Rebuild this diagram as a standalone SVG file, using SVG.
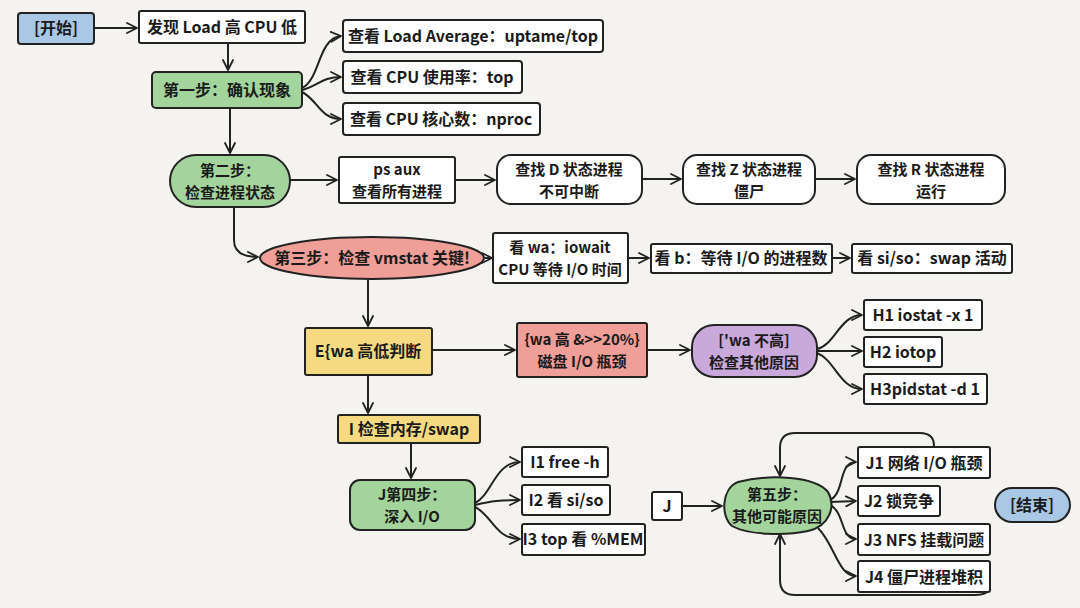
<svg xmlns="http://www.w3.org/2000/svg" width="1080" height="608" viewBox="0 0 1080 608">
<defs>
<marker id="ah" viewBox="0 0 12 12" refX="11" refY="6" markerWidth="12" markerHeight="12" markerUnits="userSpaceOnUse" orient="auto">
<path d="M1,1 L11,6 L1,11" fill="none" stroke="#222" stroke-width="1.8" stroke-linecap="round" stroke-linejoin="round"/>
</marker>
<style>
.b{stroke:#222;stroke-width:2;}
.w{fill:#fff;}
.g{fill:#a3d49b;}
.r{fill:#f09e98;}
.y{fill:#f6da82;}
.p{fill:#c9a8dc;}
.bl{fill:#a9c8e6;}
text{font-family:"Noto Sans CJK SC","Liberation Sans",sans-serif;font-weight:700;font-size:16px;fill:#1a1a1a;text-anchor:middle;}
text.t{font-size:15px;}
.c path{fill:none;stroke:#222;stroke-width:2;marker-end:url(#ah);}
</style>
</defs>
<rect width="1080" height="608" fill="#f4f3ef"/>
<g class="c">
<path d="M94,28 L137,28"/>
<path d="M228,43 L228,70"/>
<path d="M302,88 C320,80 318,38 341,36"/>
<path d="M302,90 C318,86 322,77 341,77"/>
<path d="M302,92 C318,100 320,119 341,119"/>
<path d="M230,108 L230,153"/>
<path d="M290,180 L337,180"/>
<path d="M455,180 L495,180"/>
<path d="M642,179 L681,179"/>
<path d="M815,179 L855,179"/>
<path d="M234,207 L234,240 Q234,257 258,257"/>
<path d="M485,258 L492,258"/>
<path d="M628,258 L649,258"/>
<path d="M832,258 L850,258"/>
<path d="M368,280 L368,326"/>
<path d="M432,350 L515,350"/>
<path d="M647,350 L690,350"/>
<path d="M817,349 C835,345 840,315 862,315"/>
<path d="M817,351 L862,351"/>
<path d="M817,353 C835,360 840,389 862,389"/>
<path d="M368,375 L368,413"/>
<path d="M411,443 L411,478"/>
<path d="M475,503 C492,495 495,462 520,462"/>
<path d="M475,505 C492,501 500,500 520,500"/>
<path d="M475,507 C492,515 495,539 520,539"/>
<path d="M682,506 L722,506"/>
<path d="M830,500 C845,493 838,462 856,462"/>
<path d="M830,502 L856,501"/>
<path d="M830,505 C845,512 840,539 856,539"/>
<path d="M818,528 C835,545 838,576 856,576"/>
<path d="M934,446 Q934,433 920,433 L795,433 Q780,433 780,448 L780,476"/>
<path d="M990,585 Q990,595 975,595 L795,595 Q780,595 780,580 L780,534"/>
</g>
<g id="start"><rect class="b bl" x="18" y="13" width="76" height="31" rx="3"/><text x="56" y="34">[开始]</text></g>
<g id="A"><rect class="b w" x="139" y="11" width="166" height="32" rx="2"/><text x="222" y="33">发现 Load 高 CPU 低</text></g>
<g id="B"><rect class="b g" x="152" y="72" width="150" height="36" rx="4"/><text x="227" y="96">第一步：确认现象</text></g>
<g id="B1"><rect class="b w" x="343" y="20" width="260" height="32" rx="3"/><text x="473" y="42">查看 Load Average：uptame/top</text></g>
<g id="B2"><rect class="b w" x="343" y="61" width="179" height="32" rx="3"/><text x="432" y="83">查看 CPU 使用率：top</text></g>
<g id="B3"><rect class="b w" x="343" y="103" width="197" height="32" rx="3"/><text x="441" y="125">查看 CPU 核心数：nproc</text></g>
<g id="C"><rect class="b g" x="170" y="155" width="120" height="52" rx="26"/><text class="t" x="230" y="176">第二步：</text><text class="t" x="230" y="198">检查进程状态</text></g>
<g id="C1"><rect class="b w" x="339" y="157" width="116" height="46" rx="2"/><text class="t" x="397" y="175">ps aux</text><text class="t" x="397" y="197">查看所有进程</text></g>
<g id="C2"><rect class="b w" x="497" y="155" width="145" height="49" rx="14"/><text class="t" x="569" y="175">查找 D 状态进程</text><text class="t" x="569" y="197">不可中断</text></g>
<g id="C3"><rect class="b w" x="683" y="155" width="132" height="49" rx="14"/><text class="t" x="749" y="175">查找 Z 状态进程</text><text class="t" x="749" y="197">僵尸</text></g>
<g id="C4"><rect class="b w" x="857" y="155" width="148" height="49" rx="14"/><text class="t" x="931" y="175">查找 R 状态进程</text><text class="t" x="931" y="197">运行</text></g>
<g id="D"><ellipse class="b r" cx="372" cy="258" rx="112" ry="21"/><text x="372" y="264">第三步：检查 vmstat 关键!</text></g>
<g id="D1"><rect class="b w" x="493" y="233" width="135" height="50" rx="2"/><text class="t" x="560" y="253">看 wa：iowait</text><text class="t" x="560" y="275">CPU 等待 I/O 时间</text></g>
<g id="D2"><rect class="b w" x="651" y="244" width="181" height="29" rx="2"/><text x="741" y="264">看 b：等待 I/O 的进程数</text></g>
<g id="D3"><rect class="b w" x="852" y="244" width="160" height="29" rx="2"/><text x="932" y="264">看 si/so：swap 活动</text></g>
<g id="E"><rect class="b y" x="305" y="328" width="127" height="47" rx="2"/><text x="368" y="357">E{wa 高低判断</text></g>
<g id="F"><rect class="b r" x="517" y="323" width="130" height="54" rx="2"/><text class="t" x="582" y="345">{wa 高 &amp;>>20%}</text><text class="t" x="582" y="367">磁盘 I/O 瓶颈</text></g>
<g id="G"><rect class="b p" x="692" y="325" width="125" height="52" rx="22"/><text class="t" x="754" y="346">['wa 不高]</text><text class="t" x="754" y="368">检查其他原因</text></g>
<g id="H1"><rect class="b w" x="864" y="300" width="118" height="30" rx="2"/><text x="923" y="321">H1 iostat -x 1</text></g>
<g id="H2"><rect class="b w" x="864" y="337" width="78" height="30" rx="2"/><text x="903" y="358">H2 iotop</text></g>
<g id="H3"><rect class="b w" x="864" y="374" width="123" height="30" rx="2"/><text x="925" y="395">H3pidstat -d 1</text></g>
<g id="I"><rect class="b y" x="338" y="415" width="142" height="28" rx="2"/><text x="409" y="435">I 检查内存/swap</text></g>
<g id="J4step"><rect class="b g" x="350" y="480" width="125" height="50" rx="10"/><text class="t" x="412" y="500">J第四步：</text><text class="t" x="412" y="522">深入 I/O</text></g>
<g id="I1"><rect class="b w" x="522" y="447" width="86" height="30" rx="2"/><text x="565" y="468">I1 free -h</text></g>
<g id="I2"><rect class="b w" x="522" y="485" width="88" height="30" rx="2"/><text x="566" y="506">I2 看 si/so</text></g>
<g id="I3"><rect class="b w" x="522" y="524" width="123" height="31" rx="2"/><text x="583" y="545">I3 top 看 %MEM</text></g>
<g id="J"><rect class="b w" x="652" y="492" width="30" height="28" rx="2"/><text x="667" y="512">J</text></g>
<g id="K"><path class="b g" d="M738,482 C770,474 815,476 828,492 C836,506 830,526 808,531 C785,536 748,535 732,526 C720,516 722,488 738,482 Z"/><text class="t" x="777" y="500">第五步：</text><text class="t" x="777" y="522">其他可能原因</text></g>
<g id="J1"><rect class="b w" x="858" y="447" width="132" height="31" rx="2"/><text x="924" y="469">J1 网络 I/O 瓶颈</text></g>
<g id="J2"><rect class="b w" x="858" y="486" width="82" height="30" rx="2"/><text x="899" y="507">J2 锁竞争</text></g>
<g id="J3"><rect class="b w" x="858" y="524" width="132" height="31" rx="2"/><text x="924" y="546">J3 NFS 挂载问题</text></g>
<g id="J4"><rect class="b w" x="858" y="561" width="132" height="31" rx="2"/><text x="924" y="583">J4 僵尸进程堆积</text></g>
<g id="end"><rect class="b bl" x="995" y="488" width="75" height="34" rx="17"/><text x="1032" y="511">[结束]</text></g>
</svg>
